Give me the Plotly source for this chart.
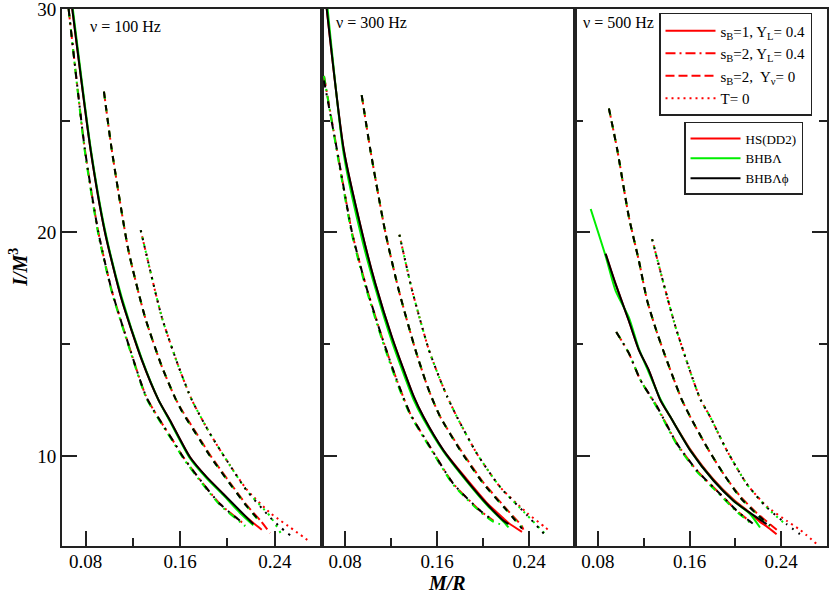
import plotly.graph_objects as go
from plotly.subplots import make_subplots

FONT = "Liberation Serif"

NU_LABELS = ["ν = 100 Hz", "ν = 300 Hz", "ν = 500 Hz"]
EOS_NAMES = ["HS(DD2)", "BHBΛ", "BHBΛϕ"]
CASE_NAMES = [
    "s<sub>B</sub>=1, Y<sub>L</sub>= 0.4",
    "s<sub>B</sub>=2, Y<sub>L</sub>= 0.4",
    "s<sub>B</sub>=2,  Y<sub>ν</sub>= 0",
    "T= 0",
]

# ---- nu = 100 Hz ----
X_100_SOLID = [0.0687, 0.0842, 0.0964, 0.1105, 0.1275, 0.1417, 0.1513, 0.1682, 0.1824, 0.1965, 0.2106, 0.2219, 0.2290]
Y_100_SOLID_HS = [30.0, 23.7, 20.0, 17.0, 14.3, 12.5, 11.6, 9.95, 9.05, 8.3, 7.5, 7.0, 6.7]
Y_100_SOLID_BHBL = [30.2, 23.8, 20.1, 17.1, 14.35, 12.5, 11.55, 9.9, 9.0, 8.25, 7.45, 6.9, None]
Y_100_SOLID_BHBLP = [30.0, 23.7, 20.0, 17.0, 14.3, 12.5, 11.6, 9.95, 9.05, 8.3, 7.55, 6.95, None]

X_100_DASHDOT = [0.0656, 0.0794, 0.0908, 0.1021, 0.1162, 0.1317, 0.1555, 0.1625, 0.1795, 0.1937, 0.2106, 0.2150]
Y_100_DASHDOT_HS = [30.0, 23.7, 20.0, 17.4, 15.0, 12.6, 10.55, 9.95, 8.75, 7.85, 7.1, 6.9]
Y_100_DASHDOT_BHBL = [30.0, 23.6, 19.9, 17.35, 14.95, 12.55, 10.5, 9.9, 8.7, 7.8, 7.05, 6.85]
Y_100_DASHDOT_BHBLP = [30.0, 23.7, 20.0, 17.4, 15.0, 12.6, 10.55, 9.95, 8.75, 7.85, 7.1, None]

X_100_DASH = [0.0955, 0.1021, 0.1162, 0.1303, 0.1445, 0.1557, 0.1625, 0.1739, 0.1852, 0.1994, 0.2163, 0.2280, 0.2361]
Y_100_DASH_HS = [26.3, 23.7, 19.2, 16.2, 14.0, 12.6, 11.95, 11.0, 10.05, 9.0, 7.8, 7.1, 6.55]
Y_100_DASH_BHBL = [26.3, 23.7, 19.2, 16.2, 14.0, 12.6, 11.9, 10.95, 10.0, 8.95, 7.75, 7.0, None]
Y_100_DASH_BHBLP = [26.3, 23.7, 19.2, 16.2, 14.0, 12.6, 11.9, 10.95, 10.0, 8.95, 7.75, 7.05, None]

X_100_DOT = [0.1266, 0.1445, 0.1586, 0.1699, 0.1852, 0.1994, 0.2163, 0.2361, 0.2450, 0.2531, 0.2700]
Y_100_DOT_HS = [20.1, 16.2, 14.0, 12.5, 11.0, 9.8, 8.5, 7.45, 7.1, 6.8, 6.15]
Y_100_DOT_BHBL = [20.1, 16.2, 14.0, 12.5, 11.0, 9.8, 8.45, 7.3, 6.55, None, None]
Y_100_DOT_BHBLP = [20.1, 16.2, 14.0, 12.5, 11.0, 9.8, 8.45, 7.25, 6.8, 6.45, None]

# ---- nu = 300 Hz ----
X_300_SOLID = [0.0641, 0.0789, 0.0948, 0.1064, 0.1209, 0.1398, 0.1482, 0.1656, 0.1860, 0.2034, 0.2179, 0.2222, 0.2339]
Y_300_SOLID_HS = [30.0, 23.7, 20.0, 17.7, 15.3, 12.65, 11.75, 10.25, 8.95, 7.9, 7.2, 7.0, 6.6]
Y_300_SOLID_BHBL = [30.4, 23.5, 19.7, 17.5, 15.1, 12.5, 11.65, 10.2, 8.85, 7.8, 7.05, 6.8, None]
Y_300_SOLID_BHBLP = [30.0, 23.7, 20.0, 17.7, 15.3, 12.65, 11.75, 10.25, 8.9, 7.85, 7.1, 6.95, None]

X_300_DASHDOT = [0.0617, 0.0730, 0.0861, 0.0977, 0.1122, 0.1250, 0.1366, 0.1540, 0.1743, 0.1976, 0.2092, 0.2148]
Y_300_DASHDOT_HS = [27.0, 23.7, 20.0, 17.7, 15.3, 13.4, 11.9, 10.4, 8.75, 7.55, 7.1, None]
Y_300_DASHDOT_BHBL = [27.0, 23.6, 19.9, 17.6, 15.2, 13.3, 11.85, 10.35, 8.7, 7.5, 7.05, 6.95]
Y_300_DASHDOT_BHBLP = [26.8, 23.7, 20.0, 17.7, 15.3, 13.4, 11.9, 10.4, 8.75, 7.55, 7.1, None]

X_300_DASH = [0.0945, 0.1020, 0.1151, 0.1268, 0.1412, 0.1497, 0.1543, 0.1628, 0.1802, 0.2005, 0.2209, 0.2339, 0.2351]
Y_300_DASH_HS = [26.15, 23.7, 20.0, 17.4, 14.75, 13.4, 12.75, 11.75, 10.3, 8.8, 7.6, 6.85, 6.7]
Y_300_DASH_BHBL = [26.15, 23.7, 20.0, 17.4, 14.75, 13.4, 12.75, 11.75, 10.25, 8.75, 7.55, 6.8, None]
Y_300_DASH_BHBLP = [26.15, 23.7, 20.0, 17.4, 14.75, 13.4, 12.75, 11.75, 10.25, 8.75, 7.55, 6.75, None]

X_300_DOT = [0.1273, 0.1384, 0.1529, 0.1628, 0.1689, 0.1773, 0.1947, 0.2150, 0.2383, 0.2542, 0.2586]
Y_300_DOT_HS = [19.9, 17.4, 14.75, 13.4, 12.65, 11.75, 10.1, 8.6, 7.45, 6.8, 6.6]
Y_300_DOT_BHBL = [19.9, 17.4, 14.75, 13.4, 12.65, 11.75, 10.1, 8.6, 7.35, 6.5, None]
Y_300_DOT_BHBLP = [19.9, 17.4, 14.75, 13.4, 12.65, 11.75, 10.1, 8.6, 7.35, 6.45, None]

# ---- nu = 500 Hz ----
X_500_SOLID = [0.0737, 0.0867, 0.0954, 0.1070, 0.1157, 0.1243, 0.1345, 0.1432, 0.1606, 0.1809, 0.1983, 0.2128, 0.2215, 0.2273, 0.2360]
Y_500_SOLID_HS = [None, 19.05, 17.7, 16.05, 14.75, 13.85, 12.5, 11.75, 10.3, 8.95, 8.05, 7.45, 7.05, 6.85, 6.5]
Y_500_SOLID_BHBL = [21.05, 18.95, 17.4, 16.2, 14.8, 13.75, 12.55, 11.75, 10.25, 8.9, 8.0, 7.4, 6.8, None, None]
Y_500_SOLID_BHBLP = [None, 19.05, 17.7, 16.05, 14.75, 13.85, 12.5, 11.75, 10.25, 8.9, 8.0, 7.45, 7.15, 6.95, None]

X_500_DASHDOT = [0.0960, 0.1070, 0.1171, 0.1317, 0.1490, 0.1664, 0.1867, 0.2012, 0.2157]
Y_500_DASHDOT_HS = [15.55, 14.6, 13.4, 12.2, 10.55, 9.35, 8.3, 7.55, 6.95]
Y_500_DASHDOT_BHBL = [15.55, 14.6, 13.4, 12.15, 10.5, 9.3, 8.25, 7.5, 6.9]
Y_500_DASHDOT_BHBLP = [15.55, 14.6, 13.4, 12.2, 10.55, 9.35, 8.3, 7.55, 6.95]

X_500_DASH = [0.0896, 0.0969, 0.1070, 0.1157, 0.1230, 0.1317, 0.1389, 0.1476, 0.1534, 0.1606, 0.1751, 0.1896, 0.2041, 0.2186, 0.2302, 0.2371]
Y_500_DASH_HS = [25.55, 23.7, 20.7, 18.75, 16.95, 15.5, 14.45, 13.25, 12.5, 11.75, 10.4, 9.2, 8.2, 7.45, 6.95, 6.65]
Y_500_DASH_BHBL = [25.55, 23.7, 20.7, 18.75, 16.95, 15.5, 14.45, 13.25, 12.5, 11.75, 10.4, 9.2, 8.15, 7.4, 6.85, None]
Y_500_DASH_BHBLP = [25.55, 23.7, 20.7, 18.75, 16.95, 15.5, 14.45, 13.25, 12.5, 11.75, 10.4, 9.2, 8.15, 7.4, 6.9, None]

X_500_DOT = [0.1273, 0.1374, 0.1476, 0.1591, 0.1693, 0.1780, 0.1925, 0.2099, 0.2273, 0.2447, 0.2563, 0.2708]
Y_500_DOT_HS = [19.7, 17.7, 15.8, 14.0, 12.55, 11.75, 10.25, 8.75, 7.75, 7.1, 6.7, 6.07]
Y_500_DOT_BHBL = [19.7, 17.7, 15.8, 14.0, 12.55, 11.75, 10.25, 8.75, 7.7, 6.9, None, None]
Y_500_DOT_BHBLP = [19.7, 17.7, 15.8, 14.0, 12.55, 11.75, 10.25, 8.75, 7.7, 6.95, 6.5, None]

# panel -> list of (style, x, [y per EoS])
PANELS = [
    [
        ("solid", X_100_SOLID, [Y_100_SOLID_HS, Y_100_SOLID_BHBL, Y_100_SOLID_BHBLP]),
        ("dashdot", X_100_DASHDOT, [Y_100_DASHDOT_HS, Y_100_DASHDOT_BHBL, Y_100_DASHDOT_BHBLP]),
        ("dash", X_100_DASH, [Y_100_DASH_HS, Y_100_DASH_BHBL, Y_100_DASH_BHBLP]),
        ("dot", X_100_DOT, [Y_100_DOT_HS, Y_100_DOT_BHBL, Y_100_DOT_BHBLP]),
    ],
    [
        ("solid", X_300_SOLID, [Y_300_SOLID_HS, Y_300_SOLID_BHBL, Y_300_SOLID_BHBLP]),
        ("dashdot", X_300_DASHDOT, [Y_300_DASHDOT_HS, Y_300_DASHDOT_BHBL, Y_300_DASHDOT_BHBLP]),
        ("dash", X_300_DASH, [Y_300_DASH_HS, Y_300_DASH_BHBL, Y_300_DASH_BHBLP]),
        ("dot", X_300_DOT, [Y_300_DOT_HS, Y_300_DOT_BHBL, Y_300_DOT_BHBLP]),
    ],
    [
        ("solid", X_500_SOLID, [Y_500_SOLID_HS, Y_500_SOLID_BHBL, Y_500_SOLID_BHBLP]),
        ("dashdot", X_500_DASHDOT, [Y_500_DASHDOT_HS, Y_500_DASHDOT_BHBL, Y_500_DASHDOT_BHBLP]),
        ("dash", X_500_DASH, [Y_500_DASH_HS, Y_500_DASH_BHBL, Y_500_DASH_BHBLP]),
        ("dot", X_500_DOT, [Y_500_DOT_HS, Y_500_DOT_BHBL, Y_500_DOT_BHBLP]),
    ],
]

COLORS = ["#ff0000", "#00ee00", "#000000"]
STYLES = ["solid", "dashdot", "dash", "dot"]
# slightly different dash rhythm per EoS so the overlapping curves show all colours
DASHES = {
    "solid": ["solid", "solid", "solid"],
    "dashdot": ["10px,4px,2px,4px", "8px,5px,2px,5px", "7px,6px,2px,6px"],
    "dash": ["9px,4px", "7px,6px", "6px,7px"],
    "dot": ["2px,4px", "2px,5px", "2px,6px"],
}

fig = make_subplots(rows=1, cols=3, shared_yaxes=True, horizontal_spacing=0)

for p, curves in enumerate(PANELS):
    for e in range(3):  # red first, black last (on top)
        for style, xs, ys in curves:
            fig.add_trace(go.Scatter(
                x=xs, y=ys[e], mode="lines", showlegend=False,
                line=dict(color=COLORS[e], width=2, dash=DASHES[style][e],
                          shape="spline", smoothing=0.6),
                hoverinfo="skip",
            ), row=1, col=p + 1)

# legend entries
for i, style in enumerate(STYLES):
    fig.add_trace(go.Scatter(
        x=[None], y=[None], mode="lines", name=CASE_NAMES[i], legend="legend",
        line=dict(color=COLORS[0], width=2, dash=DASHES[style][0]),
    ), row=1, col=3)
for e in range(3):
    fig.add_trace(go.Scatter(
        x=[None], y=[None], mode="lines", name=EOS_NAMES[e], legend="legend2",
        line=dict(color=COLORS[e], width=2),
    ), row=1, col=3)

domains = [[0, 0.3399], [0.3399, 0.6706], [0.6706, 1.0]]
for c in range(3):
    fig.update_xaxes(
        domain=domains[c], range=[0.06, 0.28], row=1, col=c + 1,
        tick0=0.08, dtick=0.08, tickformat=".2f",
        ticks="inside", ticklen=15, tickwidth=2, tickcolor="#222",
        minor=dict(tick0=0, dtick=0.04, ticks="inside", ticklen=8, tickwidth=2, tickcolor="#222"),
        showline=True, linewidth=2, linecolor="#222", mirror=True,
        showgrid=False, zeroline=False, ticklabelstandoff=-3,
        tickfont=dict(family=FONT, size=19, color="black"),
    )
    fig.update_yaxes(
        range=[5.97, 30], row=1, col=c + 1,
        tick0=0, dtick=10,
        ticks="inside", ticklen=15, tickwidth=2, tickcolor="#222",
        minor=dict(tick0=0, dtick=5, ticks="inside", ticklen=8, tickwidth=2, tickcolor="#222"),
        showline=True, linewidth=2, linecolor="#222",
        mirror="ticks" if c == 2 else True,
        showgrid=False, zeroline=False,
        showticklabels=(c == 0), ticklabeloverflow="allow",
        tickfont=dict(family=FONT, size=19, color="black"),
    )

label_pos = [(0.1, 0.968), (0.049, 0.975), (0.024, 0.975)]
for c, (lx, ly) in enumerate(label_pos):
    xref = "x domain" if c == 0 else f"x{c + 1} domain"
    yref = "y domain" if c == 0 else f"y{c + 1} domain"
    fig.add_annotation(
        text=NU_LABELS[c], xref=xref, yref=yref, x=lx, y=ly,
        xanchor="left", yanchor="middle", showarrow=False,
        font=dict(family=FONT, size=16, color="black"),
    )

fig.add_annotation(
    text="<b><i>M/R</i></b>", xref="paper", yref="paper", x=0.503, y=-0.068,
    xanchor="center", yanchor="middle", showarrow=False,
    font=dict(family=FONT, size=20, color="black"),
)
fig.add_annotation(
    text="<b><i>I/M</i><sup>3</sup></b>", xref="paper", yref="paper", x=-0.0575, y=0.518,
    xanchor="center", yanchor="middle", textangle=-90, showarrow=False,
    font=dict(family=FONT, size=20, color="black"),
)

fig.update_layout(
    width=830, height=593,
    margin=dict(l=62, r=3, t=9, b=47),
    template="none",
    paper_bgcolor="white", plot_bgcolor="white",
    font=dict(family=FONT, color="black"),
    legend=dict(
        x=0.7804, y=0.9926, xanchor="left", yanchor="top",
        bgcolor="white", bordercolor="#222", borderwidth=1.5,
        font=dict(family=FONT, size=15, color="black"),
        itemwidth=50, tracegroupgap=0,
    ),
    legend2=dict(
        x=0.8131, y=0.7896, xanchor="left", yanchor="top",
        bgcolor="white", bordercolor="#222", borderwidth=1.5,
        font=dict(family=FONT, size=13, color="black"),
        itemwidth=50, tracegroupgap=0,
    ),
)

# the page's default body margin would push the figure 8px down/right
fig.write_html(
    "out.html",
    config={"displayModeBar": False},
    post_script="document.body.style.margin = '0px';",
)
